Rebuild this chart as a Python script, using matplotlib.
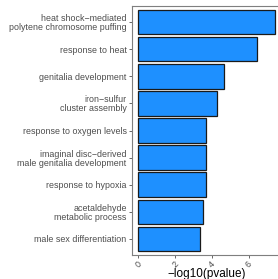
import matplotlib
matplotlib.use('Agg')
import matplotlib.pyplot as plt
import numpy as np

plt.rcParams['font.family'] = ['Liberation Sans', 'DejaVu Sans']

# GO terms, top to bottom
terms = ['heat shock\u2212mediated\npolytene chromosome puffing',
         'response to heat',
         'genitalia development',
         'iron\u2212sulfur\ncluster assembly',
         'response to oxygen levels',
         'imaginal disc\u2212derived\nmale genitalia development',
         'response to hypoxia',
         'acetaldehyde\nmetabolic process',
         'male sex differentiation']
logp = [7.45, 6.45, 4.66, 4.28, 3.68, 3.68, 3.70, 3.50, 3.37]
xticks = [0, 2, 4, 6]

fig = plt.figure(figsize=(2.78, 2.79), dpi=100)
# panel runs past the right edge of the image, as in the original
ax = fig.add_axes([131.5/278, 24/279, 150.5/278, 249/279])

n = len(terms)
y = np.arange(n)[::-1] + 1
ax.barh(y, logp, height=0.9, color='#1E90FF', edgecolor='#1a1a1a', linewidth=0.9)

ax.set_xlim(-0.37, 7.82)
ax.set_ylim(0.4, n + 0.6)
ax.set_yticks(y)
ax.set_yticklabels(terms, fontsize=6.4, color='#4D4D4D', linespacing=1.0)
ax.set_xticks(xticks)
ax.set_xticklabels([str(t) for t in xticks], fontsize=6.4, color='#4D4D4D',
                   rotation=45, ha='center', va='top')
fig.text(ax.get_position().x0 + ax.get_position().width / 2, 4.5/279,
         '\u2212log10(pvalue)', fontsize=8.5, color='black',
         ha='center', va='center')

for s in ax.spines.values():
    s.set_color('#7F7F7F')
    s.set_linewidth(0.8)
ax.tick_params(length=2.5, width=0.6, color='#4D4D4D', pad=1)

fig.savefig('out.png', dpi=100)
